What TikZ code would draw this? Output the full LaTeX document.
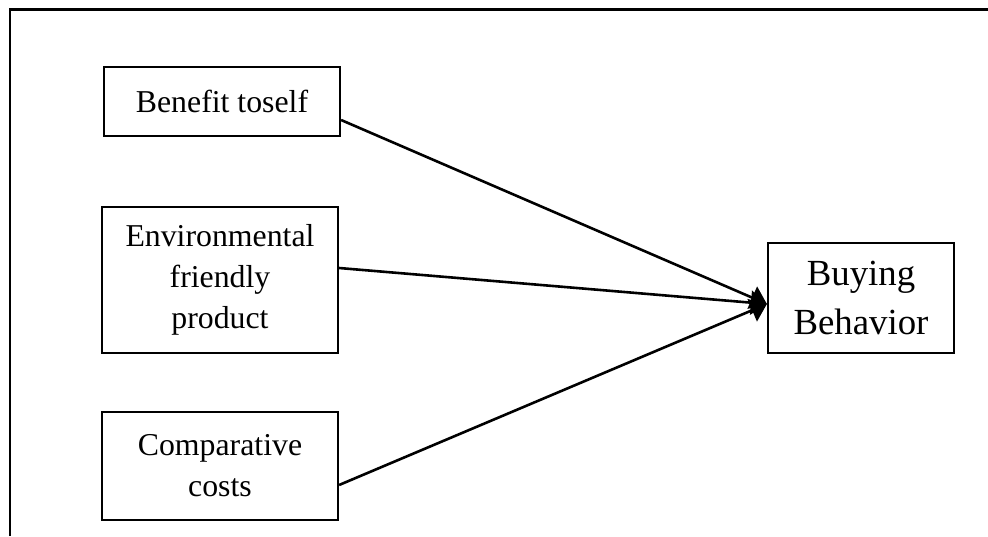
\documentclass[tikz,border=0pt]{standalone}
\usepackage{fontspec}
\setmainfont{Liberation Serif}
\usepackage{tikz}
\usetikzlibrary{arrows.meta}
\usetikzlibrary{calc}

\begin{document}
\begin{tikzpicture}[x=1pt, y=-1pt,
	factor/.style={draw, line width=2.2pt, align=center, inner sep=0pt,
		font=\fontsize{31.8}{41}\selectfont},
	link/.style={line width=2.6pt, -{Triangle[length=16pt, width=24pt]}}]
	\useasboundingbox (0,0) rectangle (988,536);
	
	% frame, open at right and bottom
	\draw[line width=2.6pt] (10,536) -- (10,9.5) -- (988,9.5);
	
	\node[factor, minimum width=236pt, minimum height=69pt] (ben) at (222,101.5) {Benefit toself};
	\node[factor, minimum width=236pt, minimum height=146pt] (env) at (220,280) {Environmental\\friendly\\product};
	\node[factor, minimum width=236pt, minimum height=108pt] (cost) at (220,466) {Comparative\\costs};
	
	\node[factor, minimum width=186pt, minimum height=110pt, font=\fontsize{36.8}{49}\selectfont] (buy) at (861,298) {Buying\\Behavior};
	
	\coordinate (tip) at ($(buy.west)+(0,6)$);
	
	\draw[link] ($(ben.east)+(0,18.5)$) -- (tip);
	\draw[link] ($(env.east)+(0,-12)$) -- (tip);
	\draw[link] ($(cost.east)+(0,19)$) -- (tip);
\end{tikzpicture}
\end{document}
